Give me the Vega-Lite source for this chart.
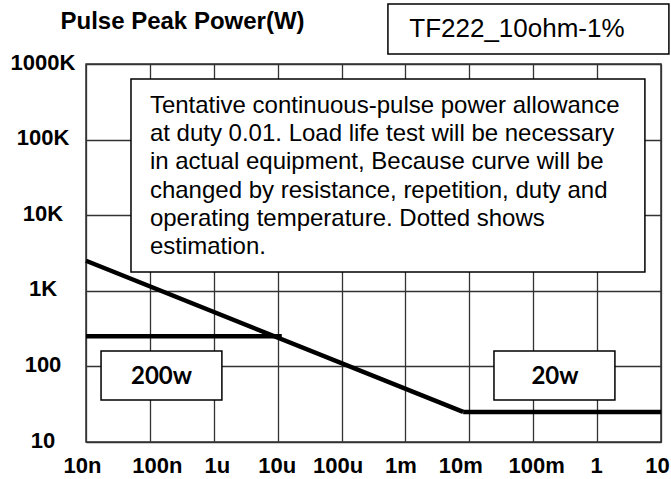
{
  "$schema": "https://vega.github.io/schema/vega-lite/v6.json",
  "width": 575,
  "height": 378,
  "autosize": {"type": "none"},
  "padding": {"left": 86, "top": 64, "right": 10, "bottom": 37},
  "background": "white",
  "config": {
    "view": {"stroke": "#333333", "strokeWidth": 1.5},
    "font": "Liberation Sans"
  },
  "datasets": {
    "lines": [
      {"series": "slope", "t": 1e-8, "p": 2500},
      {"series": "slope", "t": 0.008, "p": 25},
      {"series": "flat20", "t": 0.008, "p": 25},
      {"series": "flat20", "t": 10, "p": 25},
      {"series": "flat200", "t": 1e-8, "p": 250},
      {"series": "flat200", "t": 1.16e-5, "p": 250}
    ],
    "boxes": [
      {"box": "info", "x1": 5.06e-8, "x2": 5.6, "y1": 634000, "y2": 1774},
      {"box": "tf", "x1": 5.32e-4, "x2": 13.3, "y1": 6220000, "y2": 1356000},
      {"box": "200w", "x1": 1.72e-8, "x2": 1.34e-6, "y1": 160, "y2": 36},
      {"box": "20w", "x1": 0.0243, "x2": 1.9, "y1": 160, "y2": 36}
    ],
    "info": [
      {"t": 1.0e-7, "p": 280000, "text": "Tentative continuous-pulse power allowance"},
      {"t": 1.0e-7, "p": 118000, "text": "at duty 0.01. Load life test will be necessary"},
      {"t": 1.0e-7, "p": 50000, "text": "in actual equipment, Because curve will be"},
      {"t": 1.0e-7, "p": 21000, "text": "changed by resistance, repetition, duty and"},
      {"t": 1.0e-7, "p": 8900, "text": "operating temperature. Dotted shows"},
      {"t": 1.0e-7, "p": 3750, "text": "estimation."}
    ],
    "tags": [
      {"t": 1.52e-7, "p": 72, "text": "200w"},
      {"t": 0.219, "p": 72, "text": "20w"}
    ],
    "tf": [
      {"t": 0.0556, "p": 2900000, "text": "TF222_10ohm-1%"}
    ]
  },
  "layer": [
    {
      "data": {"name": "lines"},
      "mark": {"type": "line", "color": "black", "strokeWidth": 4.5, "clip": false},
      "encoding": {
        "x": {
          "field": "t", "type": "quantitative",
          "scale": {"type": "log", "domain": [1e-8, 10], "nice": false},
          "axis": {
            "values": [1e-8, 1e-7, 1e-6, 1e-5, 1e-4, 1e-3, 1e-2, 1e-1, 1, 10],
            "labelExpr": "['10n','100n','1u','10u','100u','1m','10m','100m','1','10'][round(log(datum.value)/LN10)+8]",
            "labelOffset": {"expr": "[-4,7,3,-1,-4,-5,-9,3,-1,-4][round(log(datum.value)/LN10)+8]"},
            "title": null,
            "grid": true, "gridColor": "#333333", "gridWidth": 1.3, "gridOpacity": 1,
            "ticks": false, "tickSize": 0, "domain": false,
            "labelFont": "Liberation Sans", "labelFontSize": 22, "labelFontWeight": "bold",
            "labelColor": "black", "labelPadding": 13, "labelFlush": false, "labelOverlap": false
          }
        },
        "y": {
          "field": "p", "type": "quantitative",
          "scale": {"type": "log", "domain": [10, 1000000], "nice": false},
          "axis": {
            "values": [10, 100, 1000, 10000, 100000, 1000000],
            "labelExpr": "['10','100','1K','10K','100K','1000K'][round(log(datum.value)/LN10)-1]",
            "title": "Pulse Peak Power(W)",
            "titleAngle": 0, "titleAlign": "center", "titleBaseline": "alphabetic",
            "titleX": 96, "titleY": -36,
            "titleFont": "Liberation Sans", "titleFontSize": 24, "titleFontWeight": "bold", "titleColor": "black",
            "grid": true, "gridColor": "#333333", "gridWidth": 1.3, "gridOpacity": 1,
            "ticks": false, "tickSize": 0, "domain": false,
            "labelFont": "Liberation Sans", "labelFontSize": 22, "labelFontWeight": "bold",
            "labelColor": "black", "labelAlign": "center", "labelBaseline": "middle",
            "labelPadding": 43.5, "labelOffset": -2, "labelFlush": false, "labelOverlap": false
          }
        },
        "detail": {"field": "series"}
      }
    },
    {
      "data": {"name": "boxes"},
      "mark": {"type": "rect", "fill": "white", "stroke": "black", "strokeWidth": 1.5, "clip": false},
      "encoding": {
        "x": {"field": "x1", "type": "quantitative"},
        "x2": {"field": "x2"},
        "y": {"field": "y1", "type": "quantitative"},
        "y2": {"field": "y2"}
      }
    },
    {
      "data": {"name": "info"},
      "mark": {"type": "text", "align": "left", "baseline": "middle", "font": "Liberation Sans", "fontSize": 24, "color": "black"},
      "encoding": {
        "x": {"field": "t", "type": "quantitative"},
        "y": {"field": "p", "type": "quantitative"},
        "text": {"field": "text"}
      }
    },
    {
      "data": {"name": "tags"},
      "mark": {"type": "text", "align": "center", "baseline": "middle", "font": "Lato", "fontSize": 24, "fontWeight": "bold", "color": "black"},
      "encoding": {
        "x": {"field": "t", "type": "quantitative"},
        "y": {"field": "p", "type": "quantitative"},
        "text": {"field": "text"}
      }
    },
    {
      "data": {"name": "tf"},
      "mark": {"type": "text", "align": "center", "baseline": "middle", "font": "Liberation Sans", "fontSize": 26, "color": "black", "clip": false},
      "encoding": {
        "x": {"field": "t", "type": "quantitative"},
        "y": {"field": "p", "type": "quantitative"},
        "text": {"field": "text"}
      }
    }
  ]
}
